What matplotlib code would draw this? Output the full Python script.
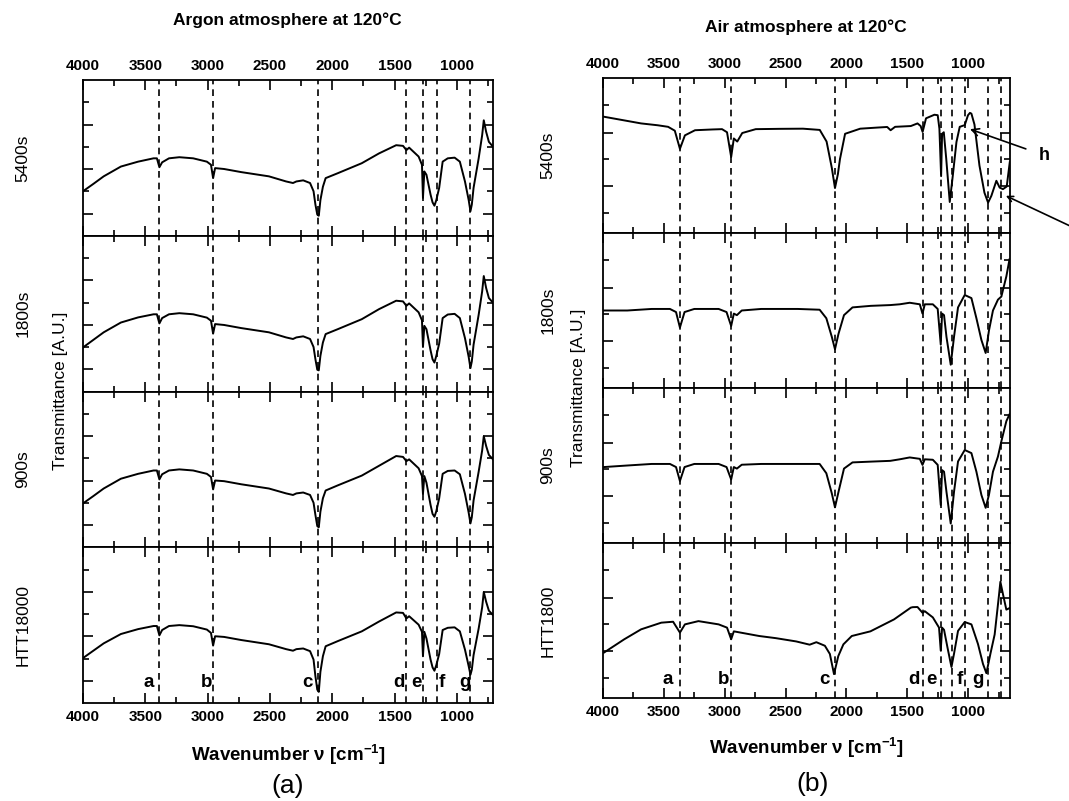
import matplotlib
matplotlib.use("Agg")
import matplotlib.pyplot as plt
from matplotlib.ticker import MultipleLocator, FixedLocator, NullFormatter

plt.rcParams['font.family'] = ['Liberation Sans', 'DejaVu Sans']
plt.rcParams['mathtext.fontset'] = 'custom'
plt.rcParams['mathtext.rm'] = 'Liberation Sans'
plt.rcParams['mathtext.bf'] = 'Liberation Sans:bold'

# ---- data ----
left_title = "Argon atmosphere at 120°C"
right_title = "Air atmosphere at 120°C"
left_names = ["5400s", "1800s", "900s", "HTT18000"]
right_names = ["5400s", "1800s", "900s", "HTT1800"]
band_labels = ["a", "b", "c", "d", "e", "f", "g"]

# argon panel: dashed band positions and label positions (cm-1)
left_lines = [3387, 2956, 2118, 1405, 1268, 1157, 891]
left_label_x = [3470, 3010, 2196, 1468, 1321, 1124, 934]
# air panel
right_lines = [3365, 2947, 2094, 1374, 1222, 1133, 1028, 838, 730]
right_label_x = [3471, 3008, 2177, 1443, 1299, 1069, 917]

left_wn = [4000, 3917, 3834, 3696, 3558, 3434, 3407, 3387, 3365, 3310, 3227, 3116,
           3006, 2973, 2956, 2940, 2868, 2730, 2508, 2370, 2315, 2288, 2233, 2178,
           2150, 2135, 2120, 2108, 2095, 2075, 2053, 1956, 1763, 1625, 1487, 1432,
           1405, 1383, 1307, 1280, 1272, 1261, 1244, 1211, 1195, 1180, 1165, 1142,
           1114, 1073, 1018, 976, 935, 905, 891, 880, 866, 825, 797, 784, 765, 743, 710]
argon_5400 = [2.0, 2.33, 2.67, 3.11, 3.33, 3.48, 3.48, 3.08, 3.30, 3.48, 3.53, 3.48,
              3.33, 3.19, 2.59, 3.04, 3.0, 2.86, 2.67, 2.44, 2.37, 2.44, 2.49, 2.37,
              2.0, 1.4, 0.95, 0.9, 1.6, 2.2, 2.59, 2.81, 3.26, 3.7, 4.07, 4.04,
              3.85, 3.96, 3.56, 3.19, 1.70, 2.89, 2.74, 1.85, 1.5, 1.35, 1.6, 2.15,
              3.33, 3.48, 3.51, 3.33, 2.44, 1.6, 1.1, 1.4, 2.15, 3.48, 4.52, 5.19, 4.67, 4.22, 4.0]
argon_1800 = [1.98, 2.32, 2.66, 3.1, 3.33, 3.47, 3.47, 3.06, 3.3, 3.47, 3.52, 3.47,
              3.32, 3.18, 2.6, 3.03, 2.99, 2.85, 2.66, 2.43, 2.36, 2.43, 2.48, 2.36,
              2.0, 1.45, 0.98, 0.95, 1.6, 2.2, 2.58, 2.8, 3.25, 3.7, 4.08, 4.05,
              3.85, 3.96, 3.56, 3.2, 2.0, 2.95, 2.8, 1.85, 1.45, 1.3, 1.6, 2.15,
              3.3, 3.46, 3.49, 3.3, 2.4, 1.55, 1.05, 1.35, 2.1, 3.45, 4.5, 5.19, 4.65, 4.2, 3.99]
argon_900 = [1.97, 2.3, 2.64, 3.08, 3.3, 3.45, 3.45, 3.05, 3.28, 3.45, 3.5, 3.45,
             3.3, 3.16, 2.6, 3.0, 2.97, 2.83, 2.64, 2.42, 2.35, 2.42, 2.46, 2.35,
             2.0, 1.45, 0.95, 0.9, 1.6, 2.2, 2.55, 2.78, 3.22, 3.66, 4.1, 4.06,
             3.87, 3.95, 3.55, 3.2, 2.4, 3.2, 2.9, 1.9, 1.5, 1.37, 1.62, 2.2,
             3.3, 3.43, 3.45, 3.28, 2.4, 1.55, 1.07, 1.35, 2.1, 3.4, 4.35, 4.99, 4.55, 4.15, 3.95]
argon_htt = [2.02, 2.35, 2.68, 3.1, 3.32, 3.46, 3.46, 3.04, 3.28, 3.46, 3.5, 3.45,
             3.3, 3.15, 2.58, 3.0, 2.97, 2.83, 2.64, 2.42, 2.35, 2.42, 2.45, 2.33,
             1.95, 1.2, 0.6, 0.5, 1.4, 2.1, 2.55, 2.78, 3.22, 3.66, 4.07, 4.05,
             3.8, 3.9, 3.52, 3.2, 2.1, 3.2, 2.9, 1.95, 1.6, 1.45, 1.7, 2.2,
             3.28, 3.38, 3.4, 3.22, 2.4, 1.65, 1.27, 1.5, 2.15, 3.35, 4.3, 4.99, 4.55, 4.15, 3.95]

air_5400_wn = [3992, 3850, 3687, 3550, 3465, 3410, 3368, 3327, 3244, 3100, 3022, 2981,
               2947, 2925, 2897, 2856, 2745, 2550, 2357, 2219, 2163, 2120, 2094, 2070,
               2053, 2011, 1887, 1750, 1665, 1637, 1600, 1471, 1416, 1390, 1374, 1346,
               1277, 1250, 1236, 1222, 1214, 1200, 1180, 1151, 1126, 1096, 1069, 1028,
               1001, 985, 973, 948, 907, 866, 836, 809, 768, 741, 714, 683, 658]
air_5400 = [0.75, 0.73, 0.707, 0.695, 0.685, 0.66, 0.543, 0.63, 0.663, 0.668, 0.67, 0.65,
            0.49, 0.61, 0.59, 0.645, 0.67, 0.672, 0.673, 0.665, 0.59, 0.42, 0.29, 0.38,
            0.477, 0.64, 0.673, 0.68, 0.684, 0.663, 0.685, 0.69, 0.707, 0.69, 0.652, 0.74,
            0.763, 0.76, 0.673, 0.367, 0.64, 0.65, 0.48, 0.2, 0.37, 0.587, 0.685, 0.696,
            0.76, 0.775, 0.77, 0.70, 0.435, 0.26, 0.196, 0.24, 0.337, 0.293, 0.283, 0.30, 0.456]

air_mid_wn = [3992, 3800, 3600, 3450, 3400, 3368, 3330, 3250, 3050, 2985, 2947, 2925,
              2900, 2860, 2700, 2400, 2220, 2165, 2120, 2094, 2065, 2020, 1950, 1800,
              1640, 1562, 1480, 1397, 1375, 1356, 1290, 1250, 1225, 1214, 1198, 1178,
              1143, 1116, 1083, 1028, 973, 932, 891, 856, 829, 796, 755, 727, 686, 660]
air_1800 = [0.50, 0.50, 0.51, 0.51, 0.49, 0.39, 0.49, 0.51, 0.51, 0.49, 0.40, 0.48,
            0.47, 0.50, 0.51, 0.51, 0.505, 0.45, 0.33, 0.25, 0.35, 0.47, 0.52, 0.53,
            0.535, 0.54, 0.55, 0.54, 0.48, 0.54, 0.54, 0.51, 0.28, 0.48, 0.47, 0.33,
            0.15, 0.33, 0.52, 0.60, 0.58, 0.45, 0.31, 0.226, 0.37, 0.50, 0.57, 0.59, 0.72, 0.83]
air_900 = [0.49, 0.50, 0.51, 0.51, 0.49, 0.40, 0.49, 0.51, 0.51, 0.49, 0.41, 0.49,
           0.48, 0.505, 0.51, 0.51, 0.51, 0.45, 0.32, 0.23, 0.33, 0.48, 0.52, 0.525,
           0.53, 0.54, 0.552, 0.543, 0.504, 0.54, 0.537, 0.504, 0.245, 0.47, 0.46, 0.33,
           0.126, 0.33, 0.526, 0.60, 0.58, 0.46, 0.31, 0.227, 0.31, 0.46, 0.558, 0.656, 0.786, 0.83]

air_htt_wn = [3992, 3825, 3687, 3521, 3424, 3368, 3327, 3216, 3050, 2981, 2947, 2925,
              2856, 2717, 2579, 2413, 2302, 2247, 2177, 2136, 2102, 2067, 2025, 1956,
              1803, 1609, 1471, 1455, 1416, 1375, 1356, 1290, 1239, 1225, 1214, 1198,
              1170, 1137, 1116, 1083, 1028, 973, 919, 878, 850, 817, 782, 746, 735, 713, 686, 660]
air_htt = [0.293, 0.379, 0.443, 0.486, 0.492, 0.422, 0.475, 0.496, 0.475, 0.454, 0.379, 0.43,
           0.42, 0.40, 0.386, 0.365, 0.344, 0.36, 0.337, 0.284, 0.154, 0.27, 0.346, 0.40,
           0.43, 0.507, 0.583, 0.586, 0.587, 0.55, 0.56, 0.52, 0.454, 0.306, 0.454, 0.44,
           0.327, 0.2, 0.285, 0.433, 0.49, 0.475, 0.348, 0.22, 0.16, 0.285, 0.41, 0.667, 0.75, 0.667, 0.57, 0.58]

left_curves = [(left_wn, argon_5400), (left_wn, argon_1800), (left_wn, argon_900), (left_wn, argon_htt)]
right_curves = [(air_5400_wn, air_5400), (air_mid_wn, air_1800), (air_mid_wn, air_900), (air_htt_wn, air_htt)]

W, H = 1069, 801
fig = plt.figure(figsize=(W / 100, H / 100), dpi=100)


def make_axes(x0, x1, top, bottom):
    # four stacked panels, given in pixels from the top-left corner
    axes = []
    h = (bottom - top) / 4
    for i in range(4):
        y_bottom = top + (i + 1) * h
        ax = fig.add_axes([x0 / W, 1 - y_bottom / H, (x1 - x0) / W, h / H])
        axes.append(ax)
    return axes


def style(ax, xmax, ymax, ymaj, ymin, first, last):
    ax.set_xlim(4000, xmax)
    ax.set_ylim(0, ymax)
    for s in ax.spines.values():
        s.set_linewidth(1.3)
    ax.xaxis.set_major_locator(MultipleLocator(500))
    ax.xaxis.set_minor_locator(MultipleLocator(250))
    ax.yaxis.set_major_locator(FixedLocator(ymaj))
    ax.yaxis.set_minor_locator(FixedLocator(ymin))
    ax.yaxis.set_major_formatter(NullFormatter())
    ax.tick_params(which='both', direction='in', top=True, bottom=True, left=True, right=True,
                   labelleft=False, labeltop=first, labelbottom=last, width=1.2,
                   labelsize=11, pad=5)
    ax.tick_params(which='major', length=7)
    ax.tick_params(which='minor', length=4)
    for lab in ax.get_xticklabels():
        lab.set_fontweight('bold')


def draw_panel(axes, curves, lines, xmax, ymax, ymaj, ymin, names, name_x):
    for i, ax in enumerate(axes):
        wn, val = curves[i]
        ax.plot(wn, val, color='black', lw=1.4)
        for x in lines:
            ax.axvline(x, color='black', lw=1.2, linestyle=(0, (4, 3)))
        style(ax, xmax, ymax, ymaj, ymin, i == 0, i == 3)
        pos = ax.get_position()
        fig.text(name_x / W, pos.y0 + pos.height / 2, names[i], rotation=90,
                 ha='center', va='center', fontsize=12.5)


# argon (left)
laxes = make_axes(83, 493, 80, 703)
draw_panel(laxes, left_curves, left_lines, 710, 7, [1, 3, 5], [2, 4, 6], left_names, 23)
for lab, x in zip(band_labels, left_label_x):
    laxes[3].text(x, 7 * 0.13, lab, ha='center', va='center', fontsize=13.5, fontweight='bold')

# air (right)
raxes = make_axes(603, 1010, 78, 698)
draw_panel(raxes, right_curves, right_lines, 656, 1, [0.303, 0.645], [0.13, 0.476, 0.827],
           right_names, 548)
for lab, x in zip(band_labels, right_label_x):
    raxes[3].text(x, 0.12, lab, ha='center', va='center', fontsize=13.5, fontweight='bold')

# arrows on the air 5400s panel
raxes[0].annotate("h", xy=(985, 0.67), xytext=(1.085, 0.50), textcoords='axes fraction',
                  fontsize=13, fontweight='bold', ha='center', va='center',
                  arrowprops=dict(arrowstyle='->', color='black', lw=1.2,
                                  shrinkA=8, shrinkB=0), annotation_clip=False)
raxes[0].annotate("", xy=(690, 0.24), xytext=(1.16, 0.03), textcoords='axes fraction',
                  arrowprops=dict(arrowstyle='->', color='black', lw=1.2, shrinkA=0, shrinkB=0),
                  annotation_clip=False)

# titles and labels
fig.text(287 / W, 1 - 20 / H, left_title, ha='center', va='center', fontsize=12.5, fontweight='bold')
fig.text(806 / W, 1 - 27 / H, right_title, ha='center', va='center', fontsize=12.5, fontweight='bold')
fig.text(60 / W, 1 - 391 / H, "Transmittance [A.U.]", rotation=90, ha='center', va='center', fontsize=12.5)
fig.text(578 / W, 1 - 388 / H, "Transmittance [A.U.]", rotation=90, ha='center', va='center', fontsize=12.5)
xlab = r"Wavenumber ν [cm$^{\mathbf{-1}}$]"
fig.text(288 / W, 1 - 755 / H, xlab, ha='center', va='center', fontsize=13.5, fontweight='bold')
fig.text(806 / W, 1 - 748 / H, xlab, ha='center', va='center', fontsize=13.5, fontweight='bold')
fig.text(288 / W, 1 - 786 / H, "(a)", ha='center', va='center', fontsize=19)
fig.text(813 / W, 1 - 784 / H, "(b)", ha='center', va='center', fontsize=19)

fig.savefig("out.png", dpi=100, facecolor='white')
